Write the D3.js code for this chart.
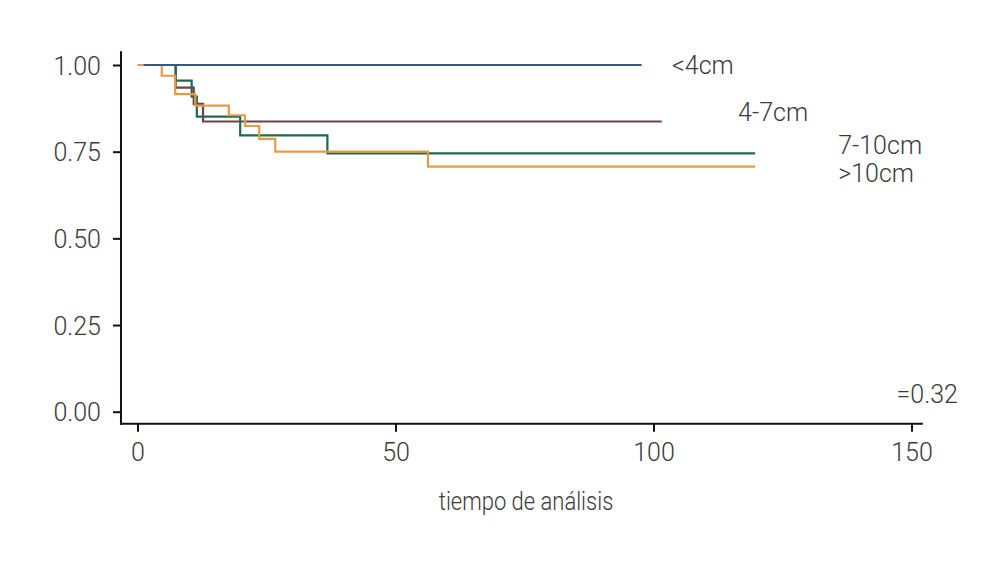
<!DOCTYPE html>
<html>
<head>
<meta charset="utf-8">
<script src="https://cdn.jsdelivr.net/npm/d3@7"></script>
<style>
  html, body { margin: 0; padding: 0; background: #ffffff; }
  svg { display: block; }
  text { font-family: Roboto, "Liberation Sans", sans-serif; font-weight: 300; fill: #3a3a3a; }
</style>
</head>
<body>
<svg id="chart" width="1008" height="570"></svg>
<script>
// ---- data ----
const groupNames  = ["<4cm", "4-7cm", "7-10cm", ">10cm"];
const groupColors = ["#2e5b86", "#6e4244", "#1f6b4c", "#e69a46"];

const timesLt4  = [1.2, 97.7];
const survLt4   = [1.0, 1.0];

const times4to7 = [1.2, 7.4, 10.9, 12.7, 101.6];
const surv4to7  = [1.0, 0.935, 0.888, 0.837, 0.837];

const times7to10 = [1.2, 7.4, 10.5, 11.5, 19.9, 36.8, 119.7];
const surv7to10  = [1.0, 0.955, 0.909, 0.851, 0.797, 0.745, 0.745];

const timesGt10 = [0, 4.7, 7.3, 11.2, 17.7, 20.8, 23.6, 26.7, 56.3, 119.7];
const survGt10  = [1.0, 0.969, 0.916, 0.883, 0.855, 0.824, 0.787, 0.750, 0.707, 0.707];

const xTicks = [0, 50, 100, 150];
const yTicks = [0, 0.25, 0.50, 0.75, 1.00];

// label anchors in data units (time, survival)
const labelTexts = ["<4cm", "4-7cm", "7-10cm", ">10cm", "=0.32"];
const labelTimes = [103.6, 116.4, 135.8, 135.8, 159.0];
const labelSurv  = [1.0, 0.864, 0.769, 0.688, 0.05];
const labelAnchor = ["start", "start", "start", "start", "end"];

const xTitle = "tiempo de análisis";

// ---- drawing ----
const svg = d3.select("#chart");
const x = d3.scaleLinear().domain([0, 150]).range([137.5, 911.5]);
const y = d3.scaleLinear().domain([0, 1]).range([411.7, 65]);

const xAxisY = y(-0.035);
const yAxisX = x(-3.2);
const fs = "25px";

// curves
const series = [
  {t: timesLt4, s: survLt4},
  {t: times4to7, s: surv4to7},
  {t: times7to10, s: surv7to10},
  {t: timesGt10, s: survGt10}
];
const line = d3.line().x(d => x(d[0])).y(d => y(d[1])).curve(d3.curveStepAfter);
const drawOrder = [1, 2, 3, 0];
drawOrder.forEach(i => {
  const pts = series[i].t.map((t, k) => [t, series[i].s[k]]);
  svg.append("path")
    .attr("d", line(pts))
    .attr("fill", "none")
    .attr("stroke", groupColors[i])
    .attr("stroke-width", 2.2);
});

// y axis
const yAxis = d3.axisLeft(y).tickValues(yTicks).tickFormat(d3.format(".2f"))
  .tickSize(8).tickPadding(12);
const gy = svg.append("g").attr("transform", `translate(${yAxisX},0)`).call(yAxis);
gy.select(".domain").remove();
gy.selectAll(".tick line").attr("stroke", "#111").attr("stroke-width", 2);
gy.selectAll(".tick text").style("font-size", fs).attr("dy", "0.36em")
  .style("font-family", "Roboto, sans-serif").style("font-weight", 300).attr("fill", "#3a3a3a");
svg.append("line").attr("x1", yAxisX).attr("x2", yAxisX)
  .attr("y1", y(1.04)).attr("y2", xAxisY + 1)
  .attr("stroke", "#111").attr("stroke-width", 2);

// x axis
const xAxis = d3.axisBottom(x).tickValues(xTicks).tickFormat(d3.format("d"))
  .tickSize(8).tickPadding(11);
const gx = svg.append("g").attr("transform", `translate(0,${xAxisY})`).call(xAxis);
gx.select(".domain").remove();
gx.selectAll(".tick line").attr("stroke", "#111").attr("stroke-width", 2);
gx.selectAll(".tick text").style("font-size", fs)
  .style("font-family", "Roboto, sans-serif").style("font-weight", 300).attr("fill", "#3a3a3a");
svg.append("line").attr("x1", yAxisX - 1).attr("x2", x(152.2))
  .attr("y1", xAxisY).attr("y2", xAxisY)
  .attr("stroke", "#111").attr("stroke-width", 2);

// x title
svg.append("text")
  .attr("transform", `translate(${x(75.3)},510) scale(0.88,1)`)
  .attr("text-anchor", "middle")
  .style("font-size", fs)
  .text(xTitle);

// group labels
labelTexts.forEach((txt, i) => {
  svg.append("text")
    .attr("x", x(labelTimes[i]))
    .attr("y", y(labelSurv[i]))
    .attr("dy", "0.36em")
    .attr("text-anchor", labelAnchor[i])
    .style("font-size", fs)
    .text(txt);
});
</script>
</body>
</html>
